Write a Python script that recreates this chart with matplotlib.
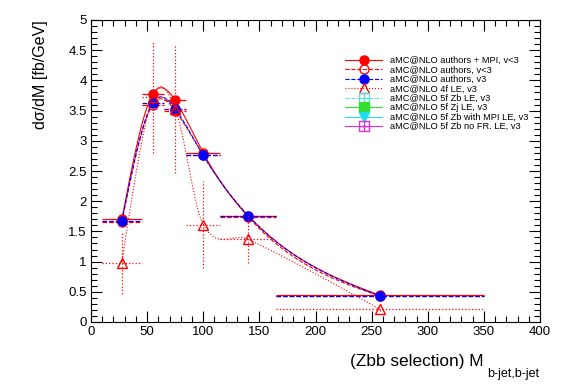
import numpy as np
import matplotlib
matplotlib.use('Agg')
import matplotlib.pyplot as plt
from matplotlib.lines import Line2D
from matplotlib.path import Path
from matplotlib.ticker import MultipleLocator, FormatStrFormatter

plt.rcParams['font.family'] = ['Liberation Sans', 'DejaVu Sans']

# bins of M(b-jet,b-jet)
bin_lo = [10, 45, 65, 85, 115, 165]
bin_hi = [45, 65, 85, 115, 165, 350]
bin_c = [27.5, 55, 75, 100, 140, 257.5]

# dsigma/dM [fb/GeV]
mpi_vlt3 = [1.70, 3.77, 3.67, 2.80, 1.76, 0.44]
auth_vlt3 = [1.66, 3.60, 3.50, 2.76, 1.74, 0.43]
auth_v3 = [1.68, 3.63, 3.53, 2.76, 1.76, 0.43]
le4f_v3 = [0.98, 3.72, 3.53, 1.61, 1.37, 0.21]
le4f_err = [0.52, 0.92, 1.06, 0.72, 0.40, 0.03]
# these samples are empty in the plot, only in the legend
zb5f = []
zj5f = []
zb5f_mpi = []
zb5f_nofr = []

labels = ['aMC@NLO authors + MPI, v<3', 'aMC@NLO authors, v<3',
          'aMC@NLO authors, v3', 'aMC@NLO 4f LE, v3',
          'aMC@NLO 5f Zb LE, v3', 'aMC@NLO 5f Zj LE, v3',
          'aMC@NLO 5f Zb with MPI LE, v3', 'aMC@NLO 5f Zb no FR. LE, v3']


def hermite(x, y, m, n=60):
    xs_all, ys_all = [], []
    for i in range(len(x) - 1):
        dx = x[i + 1] - x[i]
        s = np.linspace(0, 1, n)
        h00 = 2 * s**3 - 3 * s**2 + 1; h10 = s**3 - 2 * s**2 + s
        h01 = -2 * s**3 + 3 * s**2; h11 = s**3 - s**2
        xs_all.append(x[i] + s * dx)
        ys_all.append(h00 * y[i] + h10 * dx * m[i] + h01 * y[i + 1] + h11 * dx * m[i + 1])
    return np.concatenate(xs_all), np.concatenate(ys_all)


def smooth(x, y, kind='natural'):
    # smooth curve through the points, like ROOT's "C" draw option
    x = np.asarray(x, float); y = np.asarray(y, float)
    k = len(x); h = np.diff(x); sec = np.diff(y) / h
    if kind == 'natural':
        A = np.zeros((k, k)); b = np.zeros(k)
        A[0, 0], A[0, 1], b[0] = 2, 1, 3 * sec[0]
        A[-1, -2], A[-1, -1], b[-1] = 1, 2, 3 * sec[-1]
        for i in range(1, k - 1):
            A[i, i - 1] = h[i]; A[i, i] = 2 * (h[i - 1] + h[i]); A[i, i + 1] = h[i - 1]
            b[i] = 3 * (h[i] * sec[i - 1] + h[i - 1] * sec[i])
        m = np.linalg.solve(A, b)
    else:
        m = np.zeros(k)
        m[1:-1] = (y[2:] - y[:-2]) / (x[2:] - x[:-2])
        m[0] = (3 * sec[0] - m[1]) / 2
        m[-1] = (3 * sec[-1] - m[-2]) / 2
    return hermite(x, y, m)


boxplus = Path([(-1, -1), (1, -1), (1, 1), (-1, 1), (-1, -1), (0, -1), (0, 1), (-1, 0), (1, 0)],
               [1, 2, 2, 2, 2, 1, 2, 1, 2])

fig = plt.figure(figsize=(5.67, 3.84), dpi=100)
ax = fig.add_axes([91 / 567, 1 - 322 / 384, 449 / 567, 302 / 384])

xerr = [np.subtract(bin_c, bin_lo), np.subtract(bin_hi, bin_c)]

series = [
    (mpi_vlt3, None, 'red', '-', 'o', 'red', 3, 'natural'),
    (auth_vlt3, None, 'red', '--', 'o', 'none', 4, 'natural'),
    (auth_v3, None, 'blue', '--', 'o', 'blue', 5, 'natural'),
    (le4f_v3, le4f_err, 'red', ':', '^', 'none', 6, 'cardinal'),
]
handles = []
for vals, yerr, col, ls, mk, mfc, z, kind in series:
    xs, ys = smooth(bin_c, vals, kind)
    ax.plot(xs, ys, color=col, ls=ls, lw=0.8, zorder=z)
    eb = ax.errorbar(bin_c, vals, xerr=xerr, yerr=yerr, fmt=mk, color=col, mfc=mfc,
                     mec=col, ms=6.5, elinewidth=0.9, capsize=0, zorder=z)
    for lc in eb[2]:
        lc.set_linestyle(ls)
    handles.append(Line2D([], [], color=col, ls=ls, lw=0.8, marker=mk, mfc=mfc, mec=col, ms=6.5))

extra = [
    (zb5f, '#66dddd', '--', boxplus, 'none'),
    (zj5f, '#33dd33', '-', 's', '#33dd33'),
    (zb5f_mpi, '#22ddee', '-', 'v', '#22ddee'),
    (zb5f_nofr, '#dd33dd', '-', boxplus, 'none'),
]
for vals, col, ls, mk, mfc in extra:
    ax.plot(vals, vals, color=col, ls=ls, marker=mk)
    handles.append(Line2D([], [], color=col, ls=ls, lw=0.8, marker=mk, mfc=mfc, mec=col, ms=6.5))

fig.legend(handles, labels, loc='upper left', bbox_to_anchor=(345 / 567, 1 - 56 / 384),
           frameon=False, fontsize=6.7, labelspacing=0.05, handlelength=4.0,
           handletextpad=0.8, borderpad=0, borderaxespad=0)

ax.set_xlim(0, 400)
ax.set_ylim(0, 5)
ax.xaxis.set_major_locator(MultipleLocator(50))
ax.xaxis.set_minor_locator(MultipleLocator(10))
ax.yaxis.set_major_locator(MultipleLocator(0.5))
ax.yaxis.set_minor_locator(MultipleLocator(0.1))
ax.yaxis.set_major_formatter(FormatStrFormatter('%g'))
ax.tick_params(which='both', direction='in', top=True, right=True, labelsize=9.5, width=0.8)
ax.tick_params(which='major', length=8, pad=3)
ax.tick_params(which='minor', length=4)
for s in ax.spines.values():
    s.set_linewidth(0.8)

fig.text(484 / 567, 1 - 366 / 384, '(Zbb selection) M', ha='right', va='baseline', fontsize=12.4)
fig.text(487 / 567, 1 - 377 / 384, 'b-jet,b-jet', ha='left', va='baseline', fontsize=9)
fig.text(40 / 567, 1 - 20 / 384, 'd\u03c3/dM [fb/GeV]', rotation=90, ha='center', va='top', fontsize=11.5)

fig.savefig('out.png', dpi=100)
